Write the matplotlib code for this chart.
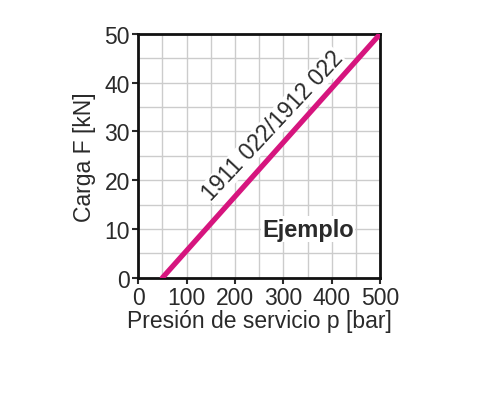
import matplotlib.pyplot as plt
import numpy as np

# Carga F vs presion de servicio
presion = [50, 500]
carga = [0, 50]

plt.rcParams['font.family'] = ['Liberation Sans', 'DejaVu Sans']

fig = plt.figure(figsize=(4.9, 4.1), dpi=100)
ax = fig.add_axes([0.282, 0.320, 0.494, 0.595])

ax.plot(presion, carga, color='#d6157e', lw=3.8, solid_capstyle='round', zorder=3)

ax.set_xlim(0, 500)
ax.set_ylim(0, 50)
ax.set_xticks(np.arange(0, 501, 100))
ax.set_xticks(np.arange(0, 501, 50), minor=True)
ax.set_yticks(np.arange(0, 51, 10))
ax.set_yticks(np.arange(0, 51, 5), minor=True)
ax.grid(which='both', color='#cccccc', lw=1)
ax.set_axisbelow(True)
ax.tick_params(which='major', direction='out', length=4, width=1.5,
               labelsize=16.5, colors='#2a2a2a', pad=2)
ax.tick_params(which='minor', length=0)
for s in ax.spines.values():
    s.set_linewidth(2)
    s.set_color('#111111')

ax.set_xlabel('Presión de servicio p [bar]', fontsize=16.5, color='#2a2a2a', labelpad=0)
ax.set_ylabel('Carga F [kN]', fontsize=16.5, color='#2a2a2a', labelpad=6)

ax.text(278, 31.2, '1911 022/1912 022', rotation=47, fontsize=16.5,
        ha='center', va='center', color='#2a2a2a', zorder=4,
        bbox=dict(facecolor='white', edgecolor='none', pad=0.3))
ax.text(351, 10, 'Ejemplo', fontsize=17, fontweight='bold', ha='center',
        va='center', color='#2a2a2a', zorder=4,
        bbox=dict(facecolor='white', edgecolor='none', pad=1))

fig.savefig('out.png', dpi=100)
